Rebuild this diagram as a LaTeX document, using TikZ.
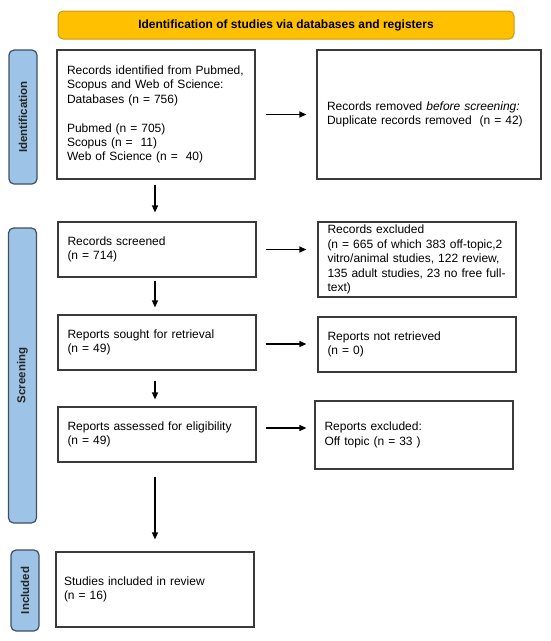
\documentclass[tikz,border=0pt]{standalone}
\usepackage{fontspec}
\setmainfont{Liberation Sans}
\usetikzlibrary{arrows.meta}
\definecolor{bannerfill}{HTML}{FFC000}
\definecolor{bannerdraw}{HTML}{C99A10}
\definecolor{sidefill}{HTML}{9DC3E6}
\definecolor{sidedraw}{HTML}{3F4F66}
\definecolor{boxdraw}{HTML}{3A3A3A}
\tikzset{
  stagebox/.style={draw=boxdraw, line width=1.2pt, fill=white, align=left,
    font=\fontsize{12}{14.4}\selectfont, inner ysep=2pt},
  sidebar/.style={draw=sidedraw, fill=sidefill, line width=1.2pt, rounded corners=5pt,
    minimum width=28pt, inner sep=0pt, font=\bfseries\fontsize{11.5}{13}\selectfont, text=black!85},
  bannerbox/.style={draw=bannerdraw, fill=bannerfill, line width=1pt, rounded corners=5pt,
    minimum width=456pt, minimum height=28pt, inner sep=0pt, font=\bfseries\fontsize{12}{14}\selectfont},
  arr/.style={-{Triangle[length=7pt,width=6pt]}, line width=1.2pt, draw=black},
}
\begin{document}
\begin{tikzpicture}[x=1pt, y=-1pt]
\useasboundingbox (0,0) rectangle (550,641);

\node[bannerbox] (banner) at (286,25) {Identification of studies via databases and registers};

\node[sidebar, minimum height=134pt] (side1) at (23,117) {};
\node[rotate=90, font=\bfseries\fontsize{11.5}{13}\selectfont, text=black!85] (side1t) at (side1.center) {Identification};
\node[sidebar, minimum height=295pt] (side2) at (22.5,375.5) {};
\node[rotate=90, font=\bfseries\fontsize{11.5}{13}\selectfont, text=black!85] (side2t) at (side2.center) {Screening};
\node[sidebar, minimum height=81pt] (side3) at (25,590.5) {};
\node[rotate=90, font=\bfseries\fontsize{11.5}{13}\selectfont, text=black!85] (side3t) at (side3.center) {Included};

\node[stagebox, minimum width=198pt, minimum height=129pt, inner xsep=10pt, text width=178pt] (b1) at (156,114.5)
  {Records identified from Pubmed,\\ Scopus and Web of Science:\\ Databases (n = 756)\\ \mbox{}\\ Pubmed (n = 705)\\ Scopus (n =\ \ 11)\\ Web of Science (n =\ \ 40)};
\node[stagebox, minimum width=224pt, minimum height=129pt, inner xsep=10pt, text width=204pt] (b2) at (429,114.5)
  {Records removed \textit{before screening:}\\ Duplicate records removed\ \ (n = 42)};

\node[stagebox, minimum width=198pt, minimum height=55pt, inner xsep=9.5pt, text width=179pt] (b3) at (157,249.5)
  {Records screened\\ (n = 714)};
\node[stagebox, minimum width=198pt, minimum height=75pt, inner xsep=9.5pt, text width=179pt] (b4) at (417,259.5)
  {Records excluded\\ (n = 665 of which 383 off-topic,2\\ vitro/animal studies, 122 review,\\ 135 adult studies, 23 no free full-\\ text)};

\node[stagebox, minimum width=198pt, minimum height=55pt, inner xsep=9.5pt, text width=179pt] (b5) at (157,342.5)
  {Reports sought for retrieval\\ (n = 49)};
\node[stagebox, minimum width=198pt, minimum height=55pt, inner xsep=9.5pt, text width=179pt] (b6) at (417,344.5)
  {Reports not retrieved\\ (n = 0)};

\node[stagebox, minimum width=198pt, minimum height=55pt, inner xsep=9.5pt, text width=179pt] (b7) at (157,434.5)
  {Reports assessed for eligibility\\ (n = 49)};
\node[stagebox, minimum width=198pt, minimum height=68pt, inner xsep=9.5pt, text width=179pt] (b8) at (414,435)
  {Reports excluded:\\ Off topic (n = 33 )};

\node[stagebox, minimum width=198pt, minimum height=75pt, inner xsep=8pt, text width=182pt] (b9) at (155,589.5)
  {Studies included in review\\ (n = 16)};

% horizontal arrows
\draw[arr, shorten <=10pt, shorten >=10pt] (b1.east) -- (b2.west);
\draw[arr, shorten <=9pt, shorten >=11pt] (b3.east) -- (b3.east -| b4.west);
\draw[arr, shorten <=9pt, shorten >=11pt] ([yshift=-1.5pt]b5.east) -- ([yshift=0.5pt]b6.west);
\draw[arr, shorten <=9pt, shorten >=8pt] ([yshift=6.5pt]b7.east) -- ([yshift=7pt]b8.west);

% vertical arrows
\draw[arr, shorten <=5pt, shorten >=9pt] ([xshift=-1pt]b1.south) -- ([xshift=-1pt]b1.south |- b3.north);
\draw[arr, shorten <=3pt, shorten >=7pt] ([xshift=-2pt]b3.south) -- ([xshift=-2pt]b5.north);
\draw[arr, shorten <=10pt, shorten >=7pt] ([xshift=-2pt]b5.south) -- ([xshift=-2pt]b7.north);
\draw[arr, shorten <=14pt, shorten >=12pt] ([xshift=-2pt]b7.south) -- ([xshift=-2pt]b7.south |- b9.north);
\end{tikzpicture}
\end{document}
